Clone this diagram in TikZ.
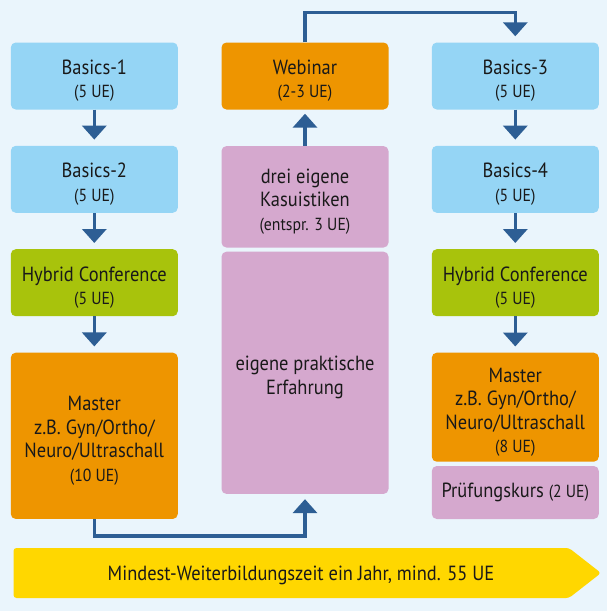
\documentclass[tikz,border=0pt]{standalone}
\usepackage{fontspec}
\setmainfont{PT Sans}[FakeStretch=0.9]
\usepackage{xcolor}
\usepackage{tikz}
\usetikzlibrary{positioning,arrows.meta}

\definecolor{bgblue}{HTML}{EAF5FC}
\definecolor{lightblue}{HTML}{95D5F5}
\definecolor{orangebox}{HTML}{EE9500}
\definecolor{greenbox}{HTML}{A8C30C}
\definecolor{pinkbox}{HTML}{D5A8CE}
\definecolor{yellowbar}{HTML}{FFD700}
\definecolor{arrowblue}{HTML}{2D5E94}

\newcommand{\ue}[1]{{\fontsize{17.5}{23}\selectfont #1}}

\tikzset{
    box/.style={rounded corners=5pt, minimum width=167pt, inner sep=0pt, align=center,
        text=black!90, font=\fontsize{20.5}{23.5}\selectfont},
    basics/.style={box, fill=lightblue, minimum height=67pt},
    hybrid/.style={box, fill=greenbox, minimum height=67pt},
    master/.style={box, fill=orangebox},
    eigen/.style={box, fill=pinkbox},
    flow/.style={draw=arrowblue, line width=3.5pt, -{Triangle[width=24pt,length=14pt]}, shorten >=6pt}
}
% first line with a taller strut, so the text sits a little lower
\newcommand{\fl}{\rule{0pt}{24pt}}

\begin{document}
\begin{tikzpicture}[x=1pt,y=-1pt]
    \fill[bgblue] (0,0) rectangle (607,611);

    % left column
    \node[basics] (b1) at (94.3,76) {\fl Basics-1\\\ue{(5 UE)}};
    \node[basics] (b2) at (94.3,179.3) {\fl Basics-2\\\ue{(5 UE)}};
    \node[hybrid] (hc1) at (94.3,282.7) {\fl Hybrid Conference\\\ue{(5 UE)}};
    \node[master, minimum height=166.3pt] (m1) at (94.3,435.8) {\fl Master\\z.B. Gyn/Ortho/\\Neuro/Ultraschall\\\ue{(10 UE)}};

    % middle column
    \node[master, minimum height=67pt] (web) at (305,76) {\fl Webinar\\\ue{(2-3 UE)}};
    \node[eigen, minimum height=101.5pt] (kas) at (305,196.8) {\fl drei eigene\\Kasuistiken\\\ue{(entspr. 3 UE)}};
    \node[eigen, minimum height=242.3pt] (prax) at (305,372.8) {\fl eigene praktische\\Erfahrung};

    % right column
    \node[basics] (b3) at (515.3,76) {\fl Basics-3\\\ue{(5 UE)}};
    \node[basics] (b4) at (515.3,179.3) {\fl Basics-4\\\ue{(5 UE)}};
    \node[hybrid] (hc2) at (515.3,282.7) {\fl Hybrid Conference\\\ue{(5 UE)}};
    \node[master, minimum height=109pt] (m2) at (515.3,407.2) {\fl Master\\z.B. Gyn/Ortho/\\Neuro/Ultraschall\\\ue{(8 UE)}};
    \node[eigen, minimum height=53pt] (pruef) at (515.3,492.5) {Prüfungskurs \ue{(2 UE)}};

    % arrows
    \draw[flow] (b1) -- (b2);
    \draw[flow] (b2) -- (hc1);
    \draw[flow] (hc1) -- (m1);
    \draw[flow] (b3) -- (b4);
    \draw[flow] (b4) -- (hc2);
    \draw[flow] (hc2) -- (m2);
    \draw[flow, shorten >=4pt] (kas) -- (web);
    \draw[flow] (web.north) -- ++(0,-29.8) -| (b3.north);
    \draw[flow, shorten >=5pt] (m1.south) -- ++(0,16.7) -| (prax.south);

    % time bar
    \fill[yellowbar, rounded corners=3pt] (13.5,548) -- (569,548) -- (601,573) -- (569,598) -- (13.5,598) -- cycle;
    \node[font=\fontsize{20.5}{23}\selectfont, text=black!90] (zeit) at (301,575) {Mindest-Weiterbildungszeit ein Jahr, mind. 55 UE};
\end{tikzpicture}
\end{document}
